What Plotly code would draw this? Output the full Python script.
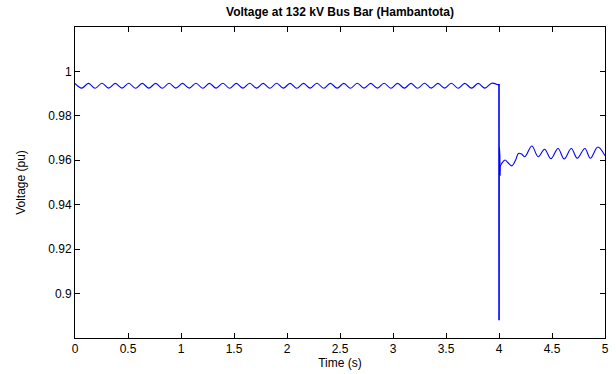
import plotly.graph_objects as go

# Pre-fault oscillation (peaks and troughs)
pre_t = [0.000, 0.063, 0.127, 0.190, 0.254, 0.317, 0.380, 0.444, 0.507, 0.571,
         0.634, 0.697, 0.761, 0.824, 0.888, 0.951, 1.014, 1.078, 1.141, 1.205,
         1.268, 1.331, 1.395, 1.458, 1.522, 1.585, 1.648, 1.712, 1.775, 1.839,
         1.902, 1.965, 2.029, 2.092, 2.156, 2.219, 2.282, 2.346, 2.409, 2.473,
         2.536, 2.599, 2.663, 2.726, 2.790, 2.853, 2.916, 2.980, 3.043, 3.107,
         3.170, 3.233, 3.297, 3.360, 3.424, 3.487, 3.550, 3.614, 3.677, 3.741,
         3.804, 3.867, 3.931, 3.990]
pre_v = [0.9946, 0.9925, 0.9946, 0.9924, 0.9947, 0.9925, 0.9946, 0.9925, 0.9947, 0.9924,
         0.9946, 0.9925, 0.9946, 0.9924, 0.9947, 0.9925, 0.9946, 0.9925, 0.9947, 0.9924,
         0.9946, 0.9925, 0.9947, 0.9924, 0.9946, 0.9925, 0.9947, 0.9925, 0.9946, 0.9924,
         0.9947, 0.9925, 0.9946, 0.9924, 0.9946, 0.9925, 0.9947, 0.9924, 0.9946, 0.9925,
         0.9946, 0.9924, 0.9947, 0.9925, 0.9946, 0.9925, 0.9947, 0.9924, 0.9946, 0.9925,
         0.9946, 0.9924, 0.9947, 0.9925, 0.9946, 0.9925, 0.9947, 0.9924, 0.9946, 0.9925,
         0.9946, 0.9925, 0.9947, 0.9940]

# Fault transient at t = 4 s
fault_t = [3.990, 4.000, 4.0005, 4.001, 4.002, 4.003, 4.004, 4.006, 4.008, 4.010]
fault_v = [0.9940, 0.9940, 0.888, 0.966, 0.889, 0.962, 0.950, 0.962, 0.953, 0.9571]

# Post-fault oscillation
post_t = [4.010, 4.026, 4.057, 4.085, 4.120, 4.160, 4.183, 4.213, 4.244, 4.310,
          4.370, 4.430, 4.490, 4.557, 4.615, 4.682, 4.738, 4.810, 4.862, 4.932, 5.000]
post_v = [0.9571, 0.9586, 0.9601, 0.9589, 0.9575, 0.9605, 0.9631, 0.9628, 0.9616, 0.9664,
          0.9616, 0.9650, 0.9607, 0.9653, 0.9606, 0.9653, 0.9609, 0.9653, 0.9609, 0.9660, 0.9620]

x_ticks = [0, 0.5, 1, 1.5, 2, 2.5, 3, 3.5, 4, 4.5, 5]
x_labels = ["0", "0.5", "1", "1.5", "2", "2.5", "3", "3.5", "4", "4.5", "5"]
y_ticks = [0.9, 0.92, 0.94, 0.96, 0.98, 1.0]
y_labels = ["0.9", "0.92", "0.94", "0.96", "0.98", "1"]

LINE = "#0000ff"
FONT = "Liberation Sans, Arial, sans-serif"

fig = go.Figure()
fig.add_trace(go.Scatter(x=pre_t, y=pre_v, mode="lines",
                         line=dict(color=LINE, width=1.1, shape="spline", smoothing=1.0),
                         hoverinfo="skip"))
fig.add_trace(go.Scatter(x=fault_t, y=fault_v, mode="lines",
                         line=dict(color=LINE, width=1.6), hoverinfo="skip"))
fig.add_trace(go.Scatter(x=post_t, y=post_v, mode="lines",
                         line=dict(color=LINE, width=1.1, shape="spline", smoothing=1.0),
                         hoverinfo="skip"))

axis_common = dict(showline=True, mirror="ticks", linecolor="black", linewidth=1,
                   ticks="inside", ticklen=5, tickcolor="black", tickwidth=1,
                   showgrid=False, zeroline=False,
                   tickfont=dict(family=FONT, size=12, color="black"))

fig.update_layout(
    width=616, height=374,
    margin=dict(l=75, r=7, t=27, b=36),
    paper_bgcolor="white", plot_bgcolor="white",
    showlegend=False,
    title=dict(text="<b>Voltage at 132 kV Bus Bar (Hambantota)</b>",
               x=0.5, xref="paper", xanchor="center",
               y=1.0, yref="container", yanchor="top", pad=dict(t=8),
               font=dict(family=FONT, size=12, color="black")),
    xaxis=dict(range=[0, 5], tickvals=x_ticks, ticktext=x_labels,
               title=dict(text="Time (s)", standoff=2,
                          font=dict(family=FONT, size=12, color="black")),
               **axis_common),
    yaxis=dict(range=[0.88, 1.02], tickvals=y_ticks, ticktext=y_labels,
               title=dict(text="Voltage (pu)", standoff=20,
                          font=dict(family=FONT, size=12, color="black")),
               **axis_common),
)

fig.write_html("out.html")
